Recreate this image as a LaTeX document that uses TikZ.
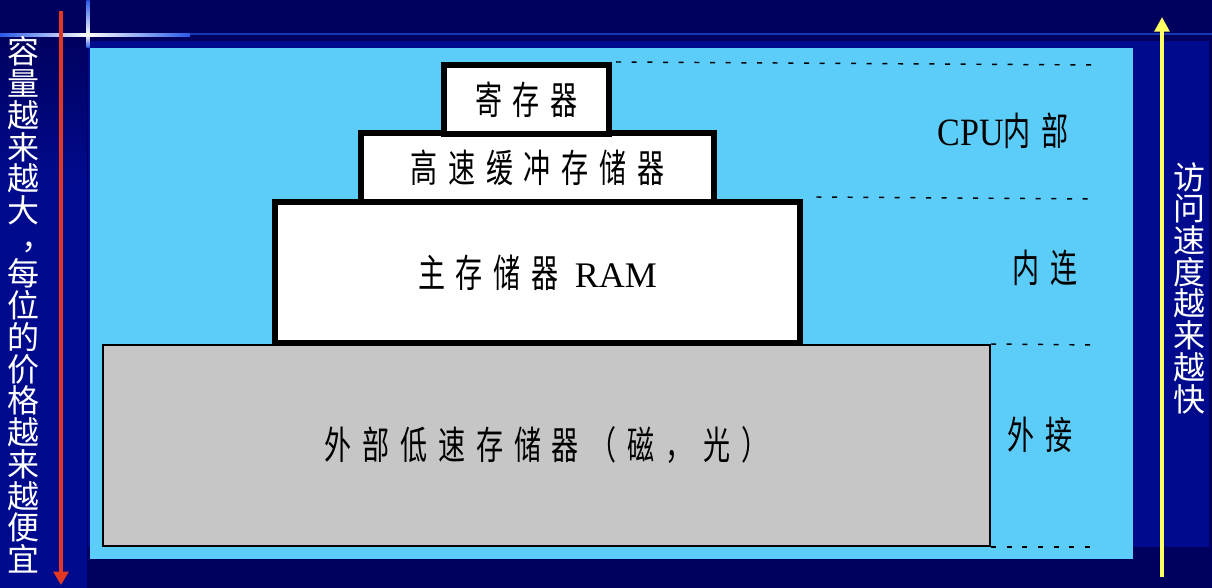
\documentclass[tikz,border=0pt]{standalone}
\usepackage{fontspec}
\usepackage{graphicx}
\usetikzlibrary{arrows.meta}
\newfontfamily\cjk{Noto Sans CJK SC}
\newfontfamily\cjkw[LetterSpace=40]{Noto Sans CJK SC}
\newfontfamily\latin{Liberation Serif}
\newcommand\narrow[1]{\scalebox{0.7}[1]{#1}}
\definecolor{navyD}{RGB}{0,0,94}
\definecolor{navyB}{RGB}{0,10,140}
\definecolor{skyB}{RGB}{92,204,248}
\definecolor{diskG}{RGB}{198,198,198}
\definecolor{arrR}{RGB}{226,56,34}
\definecolor{arrY}{RGB}{255,255,100}
\definecolor{lineB}{RGB}{40,90,230}
\tikzset{
  lvl/.style={draw=black, fill=white, line width=4.5pt, inner sep=0pt,
    font=\cjkw\fontsize{29}{30}\selectfont},
  sep/.style={dash pattern=on 3.75pt off 8pt, line width=1.1pt},
  side/.style={text=white, align=center, font=\cjk\fontsize{24}{23.8}\selectfont},
  zone/.style={font=\cjkw\fontsize{29}{30}\selectfont}
}

\begin{document}
\begin{tikzpicture}[x=0.75pt, y=-0.75pt]
% фон
\useasboundingbox (0,0) rectangle (1212,588);
\fill[navyD] (0,0) rectangle (1212,588);
\shade[top color=navyD, bottom color=navyB] (0,36) rectangle (87,180);
\fill[navyB] (0,180) rectangle (87,588);
\fill[navyB] (88,41) rectangle (1209,547);
\fill[skyB] (90,48) rectangle (1133,559);
% линии
\shade[left color=lineB, right color=white] (0,33.5) rectangle (88,36.5);
\shade[left color=white, right color=lineB] (88,33.5) rectangle (190,36.5);
\fill[lineB!60!navyD] (190,33.5) rectangle (1212,35.5);
\shade[top color=lineB, bottom color=white] (86.5,0) rectangle (89.5,35);
\shade[top color=white, bottom color=lineB] (86.5,35) rectangle (89.5,48);
% уровни
\node[lvl, fill=diskG, line width=1.5pt, minimum width=665.25pt, minimum height=150.75pt]
  (disk) at (546.5,445.5) {\narrow{外部低速存储器（磁，光）}};
\node[lvl, minimum width=393.75pt, minimum height=105.75pt]
  (ram) at (537.5,272.5) {\narrow{主存储器}\kern12pt{\latin\fontsize{27}{30}\selectfont RAM}};
\node[lvl, minimum width=264.75pt, minimum height=51.4pt]
  (cache) at (537.5,167.75) {\narrow{高速缓冲存储器}};
\node[lvl, minimum width=123.75pt, minimum height=51.4pt]
  (reg) at (526.5,99.25) {\narrow{寄存器}};
% пунктир
\coordinate (e1) at (1097,65);
\coordinate (e2) at (1097,199);
\coordinate (e3) at (1097,345);
\coordinate (e4) at (1097,547);
\draw[sep] ([xshift=3pt]reg.north east) -- (e1);
\draw[sep] ([xshift=10pt,yshift=1.5pt]ram.north east) -- (e2);
\draw[sep] (disk.north east) -- (e3);
\draw[sep] (disk.south east) -- (e4);
% подписи
\node[zone] (cpu) at (1003,131) {\scalebox{0.88}[1]{\latin CPU}\narrow{内部}};
\node[zone] (inner) at (1045,268) {\narrow{内连}};
\node[zone] (outer) at (1040,435) {\narrow{外接}};
% стрелки
\coordinate (rTop) at (61,11);
\coordinate (rBot) at (61,585);
\coordinate (yBot) at (1162,577);
\coordinate (yTop) at (1162,17);
\draw[arrR, line width=3.4pt, -{Triangle[width=11pt,length=10pt]}] (rTop) -- (rBot);
\draw[arrY, line width=3.6pt, -{Triangle[width=11pt,length=11pt]}] (yBot) -- (yTop);
\node[side] (cap) at (23,305) {容\\量\\越\\来\\越\\大\\\hspace*{0.9em}\raisebox{0.15em}{，}\\每\\位\\的\\价\\格\\越\\来\\越\\便\\宜};
\node[side] (spd) at (1189,288) {访\\问\\速\\度\\越\\来\\越\\快};
\end{tikzpicture}
\end{document}
